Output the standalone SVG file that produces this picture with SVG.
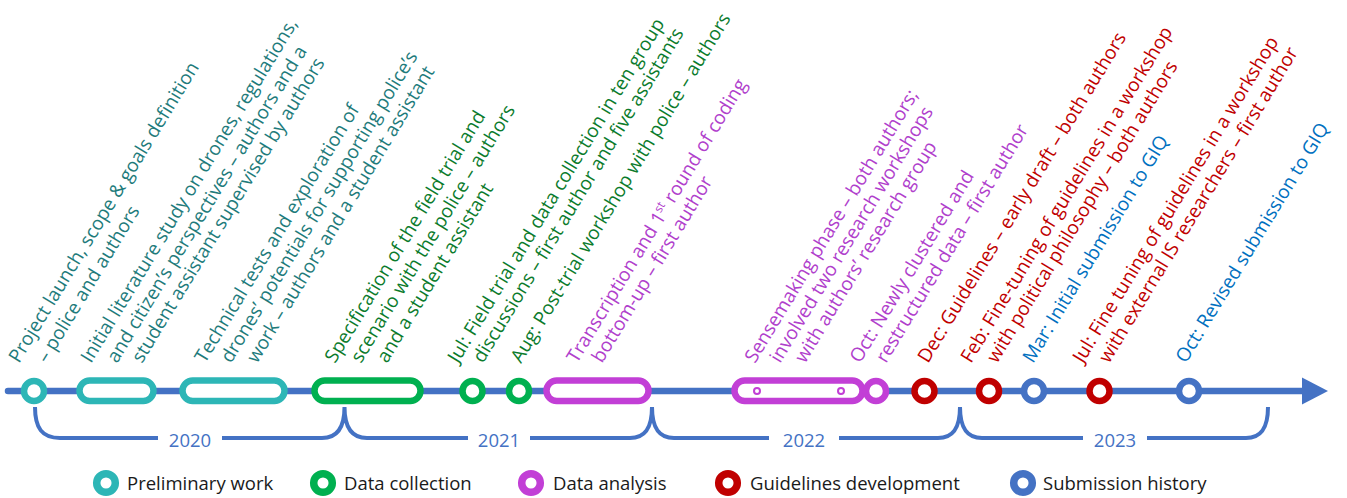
<svg xmlns="http://www.w3.org/2000/svg" width="1347" height="498" viewBox="0 0 1347 498">
<style>
.lbl{font-family:"Open Sans","Noto Sans",sans-serif;font-size:19px}
.tt{fill:#1E7B7B}.tg{fill:#0B7B2C}.tp{fill:#B040CC}.tr{fill:#C00000}.tb{fill:#0070C0}
.mk{fill:#fff;stroke-width:6.5}
.cT{stroke:#2DB6B6}.cG{stroke:#00B050}.cP{stroke:#C23FD6}.cR{stroke:#C00000}.cB{stroke:#4472C4}
.yr{font-family:"Open Sans","Noto Sans",sans-serif;font-size:18.5px;fill:#4472C4;text-anchor:middle}
.lg{font-family:"Open Sans","Noto Sans",sans-serif;font-size:18.5px;fill:#1a1a1a}
.lc{fill:#fff;stroke-width:7.5}
</style>
<g id="connectors">
<line x1="8" y1="391" x2="1305" y2="391" stroke="#4472C4" stroke-width="6.5" stroke-linecap="round"/>
<polygon points="1302,377.5 1328,391 1302,404.5" fill="#4472C4"/>
<path d="M35,407 C35,428 42,438 60,438 H158 M222,438 H322 C337,438 344.5,428 344.5,407 C344.5,428 352,438 367,438 H468 M530,438 H630 C645,438 652,428 652,407 C652,428 659,438 674,438 H769 M839,438 H938 C953,438 960,428 960,407 C960,428 967,438 982,438 H1083 M1147,438 H1246 C1261,438 1268,428 1268,407" fill="none" stroke="#4472C4" stroke-width="4"/>
</g>
<g id="years">
<text class="yr" x="190" y="447">2020</text>
<text class="yr" x="499" y="447">2021</text>
<text class="yr" x="804" y="447">2022</text>
<text class="yr" x="1115" y="447">2023</text>
</g>
<g id="n1">
<circle class="mk cT" cx="34" cy="391" r="10"/>
<text class="lbl tt" transform="translate(19,364) rotate(-58.7)">Project launch, scope &amp; goals definition</text>
<text class="lbl tt" transform="translate(47,364) rotate(-58.7)">– police and authors</text>
</g>
<g id="n2">
<rect class="mk cT" x="79.5" y="380.5" width="74" height="20.5" rx="10.25"/>
<text class="lbl tt" transform="translate(91,364) rotate(-58.7)">Initial literature study on drones, regulations,</text>
<text class="lbl tt" transform="translate(117,364) rotate(-58.7)">and citizen’s perspectives – authors and a</text>
<text class="lbl tt" transform="translate(142,364) rotate(-58.7)">student assistant supervised by authors</text>
</g>
<g id="n3">
<rect class="mk cT" x="182.5" y="380.5" width="102" height="20.5" rx="10.25"/>
<text class="lbl tt" transform="translate(205,364) rotate(-58.7)">Technical tests and exploration of</text>
<text class="lbl tt" transform="translate(231,364) rotate(-58.7)">drones’ potentials for supporting police’s</text>
<text class="lbl tt" transform="translate(257,364) rotate(-58.7)">work  – authors and a student assistant</text>
</g>
<g id="n4">
<rect class="mk cG" x="314.5" y="380.5" width="106" height="20.5" rx="10.25"/>
<text class="lbl tg" transform="translate(335,364) rotate(-58.7)">Specification of the field trial and</text>
<text class="lbl tg" transform="translate(361,364) rotate(-58.7)">scenario with the police – authors</text>
<text class="lbl tg" transform="translate(387,364) rotate(-58.7)">and a student assistant</text>
</g>
<g id="n5">
<circle class="mk cG" cx="472.5" cy="391" r="10"/>
<text class="lbl tg" transform="translate(458,364) rotate(-58.7)">Jul: Field trial and data collection in ten group</text>
<text class="lbl tg" transform="translate(483,364) rotate(-58.7)">discussions – first author and five assistants</text>
</g>
<g id="n6">
<circle class="mk cG" cx="519" cy="391" r="10"/>
<text class="lbl tg" transform="translate(521,364) rotate(-58.7)">Aug: Post-trial workshop with police – authors</text>
</g>
<g id="n7">
<rect class="mk cP" x="546.5" y="380.5" width="102" height="20.5" rx="10.25"/>
<text class="lbl tp" transform="translate(577,364) rotate(-58.7)">Transcription and 1<tspan font-size="12" dy="-7">st</tspan><tspan dy="7"> round of coding</tspan></text>
<text class="lbl tp" transform="translate(602,364) rotate(-58.7)">bottom-up – first author</text>
</g>
<g id="n8">
<rect class="mk cP" x="734.5" y="380.5" width="128" height="20.5" rx="10.25"/>
<circle cx="757" cy="391" r="3" fill="#fff" stroke="#C23FD6" stroke-width="2"/>
<circle cx="841" cy="391" r="3" fill="#fff" stroke="#C23FD6" stroke-width="2"/>
<text class="lbl tp" transform="translate(755,364) rotate(-58.7)">Sensemaking phase – both authors;</text>
<text class="lbl tp" transform="translate(780,364) rotate(-58.7)">involved two research workshops</text>
<text class="lbl tp" transform="translate(805,364) rotate(-58.7)">with authors’ research group</text>
</g>
<g id="n9">
<circle class="mk cP" cx="876" cy="391" r="10"/>
<text class="lbl tp" transform="translate(860,364) rotate(-58.7)">Oct: Newly clustered and</text>
<text class="lbl tp" transform="translate(886,364) rotate(-58.7)">restructured data – first author</text>
</g>
<g id="n10">
<circle class="mk cR" cx="924.5" cy="391" r="10"/>
<text class="lbl tr" transform="translate(928,364) rotate(-58.7)">Dec: Guidelines – early draft – both authors</text>
</g>
<g id="n11">
<circle class="mk cR" cx="989" cy="391" r="10"/>
<text class="lbl tr" transform="translate(971,364) rotate(-58.7)">Feb: Fine-tuning of guidelines in a workshop</text>
<text class="lbl tr" transform="translate(997,364) rotate(-58.7)">with political philosophy – both authors</text>
</g>
<g id="n12">
<circle class="mk cB" cx="1034" cy="391" r="10"/>
<text class="lbl tb" transform="translate(1033,364) rotate(-58.7)">Mar: Initial submission to GIQ</text>
</g>
<g id="n13">
<circle class="mk cR" cx="1099.5" cy="391" r="10"/>
<text class="lbl tr" transform="translate(1083,364) rotate(-58.7)">Jul: Fine tuning of guidelines in a workshop</text>
<text class="lbl tr" transform="translate(1109,364) rotate(-58.7)">with external IS researchers – first author</text>
</g>
<g id="n14">
<circle class="mk cB" cx="1189" cy="391" r="10"/>
<text class="lbl tb" transform="translate(1186,364) rotate(-58.7)">Oct: Revised submission to GIQ</text>
</g>
<g id="legend">
<circle class="lc cT" cx="106" cy="483" r="9.3"/>
<text class="lg" x="127" y="490">Preliminary work</text>
<circle class="lc cG" cx="323" cy="483" r="9.3"/>
<text class="lg" x="344" y="490">Data collection</text>
<circle class="lc cP" cx="531" cy="483" r="9.3"/>
<text class="lg" x="553" y="490">Data analysis</text>
<circle class="lc cR" cx="728" cy="483" r="9.3"/>
<text class="lg" x="750" y="490">Guidelines development</text>
<circle class="lc cB" cx="1023" cy="483" r="9.3"/>
<text class="lg" x="1043" y="490">Submission history</text>
</g>
</svg>
